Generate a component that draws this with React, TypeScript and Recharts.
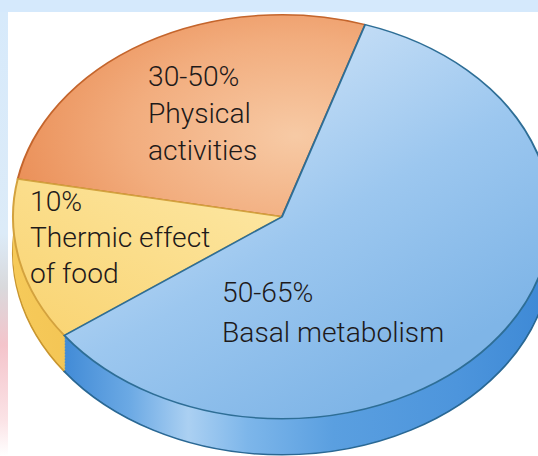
import React from "react";
import { PieChart, Pie, Cell } from "recharts";

// energy expenditure split (slice sizes in %)
const slices = ["Physical activities", "Thermic effect of food", "Basal metabolism"];
const shares = [27, 13, 60];
const labelLines = [
  ["30-50%", "Physical", "activities"],
  ["10%", "Thermic effect", "of food"],
  ["50-65%", "Basal metabolism"],
];

const data = slices.map((name, i) => ({ name, value: shares[i] }));

// layout
const W = 538;
const H = 456;
const TILT = 0.751; // vertical squash of the disc
const CX = 277;
const CY = 213 / TILT;
const R = 269;
const DEPTH = 48; // thickness before squashing
const labelPos = [
  { x: 148, y: 86, dy: 37 },
  { x: 30, y: 211, dy: 36 },
  { x: 222, y: 302, dy: 40 },
];

const topFill = ["url(#gOrange)", "url(#gYellow)", "url(#gBlue)"];
const topStroke = ["#c4652c", "#d3a23e", "#2e6e96"];
const sideFill = ["#e0854a", "url(#gYellowSide)", "url(#gBlueSide)"];
const sideStroke = ["#b85a22", "#c9962f", "#2a6894"];

const layers: number[] = [];
for (let d = DEPTH; d > 0; d -= 2) layers.push(d);

export default function App() {
  return (
    <div
      style={{
        position: "fixed",
        left: 0,
        top: 0,
        width: W,
        height: H,
        overflow: "hidden",
        background: "#fff",
      }}
    >
      <div
        style={{
          position: "absolute",
          left: 0,
          top: 0,
          transform: `scaleY(${TILT})`,
          transformOrigin: "0 0",
        }}
      >
        <PieChart width={W} height={Math.ceil(H / TILT)}>
          <defs>
            <radialGradient id="gOrange" cx="0.8" cy="0.6" r="0.95">
              <stop offset="0" stopColor="#f7caa5" />
              <stop offset="0.5" stopColor="#f2ad7e" />
              <stop offset="1" stopColor="#e8864c" />
            </radialGradient>
            <linearGradient id="gYellow" x1="1" y1="0" x2="0" y2="1">
              <stop offset="0" stopColor="#fde8a6" />
              <stop offset="1" stopColor="#f9d370" />
            </linearGradient>
            <linearGradient id="gBlue" x1="0.35" y1="0" x2="0.9" y2="0.75">
              <stop offset="0" stopColor="#d2e5f8" />
              <stop offset="0.55" stopColor="#9cc7ef" />
              <stop offset="1" stopColor="#7fb5e7" />
            </linearGradient>
            <linearGradient id="gBlueSide" gradientUnits="userSpaceOnUse" x1="0" y1="0" x2={W} y2="0">
              <stop offset="0.1" stopColor="#3b86d4" />
              <stop offset="0.24" stopColor="#6ba9e4" />
              <stop offset="0.35" stopColor="#abd0f2" />
              <stop offset="0.46" stopColor="#7db6ea" />
              <stop offset="0.62" stopColor="#5a9fe0" />
              <stop offset="0.85" stopColor="#4d95dc" />
              <stop offset="1" stopColor="#3f8ad6" />
            </linearGradient>
            <linearGradient id="gYellowSide" x1="0" y1="0" x2="1" y2="0">
              <stop offset="0" stopColor="#f6ca5a" />
              <stop offset="1" stopColor="#eab443" />
            </linearGradient>
          </defs>
          {layers.map((d) => (
            <Pie
              key={`side-${d}`}
              data={data}
              dataKey="value"
              cx={CX}
              cy={CY + d}
              outerRadius={R}
              startAngle={72}
              endAngle={432}
              isAnimationActive={false}
            >
              {data.map((s, i) => (
                <Cell
                  key={s.name}
                  fill={sideFill[i]}
                  stroke={d === DEPTH ? sideStroke[i] : "none"}
                  strokeWidth={2}
                />
              ))}
            </Pie>
          ))}
          <Pie
            data={data}
            dataKey="value"
            cx={CX}
            cy={CY}
            outerRadius={R}
            startAngle={72}
            endAngle={432}
            isAnimationActive={false}
          >
            {data.map((s, i) => (
              <Cell key={s.name} fill={topFill[i]} stroke={topStroke[i]} strokeWidth={2} />
            ))}
          </Pie>
        </PieChart>
      </div>

      {/* faint watermark bits around the picture */}
      <div style={{ position: "absolute", left: 0, top: 0, width: W, height: 12, background: "#d5e9fc" }} />
      <div
        style={{
          position: "absolute",
          left: 0,
          top: 12,
          width: 8,
          height: H - 12,
          background:
            "linear-gradient(#d7eafb 0%, #dcebf8 50%, #d9d9dc 62%, #f4c4cb 75%, #fbe3e6 92%, #ffffff 100%)",
        }}
      />

      <svg width={W} height={H} style={{ position: "absolute", left: 0, top: 0 }}>
        {labelLines.map((lines, i) => (
          <text
            key={slices[i]}
            fontFamily="Roboto, 'Liberation Sans', Arial, sans-serif"
            fontWeight={300}
            fontSize={28.2}
            fill="#1e1a1a"
          >
            {lines.map((line, j) => (
              <tspan key={line} x={labelPos[i].x} y={labelPos[i].y + j * labelPos[i].dy}>
                {line}
              </tspan>
            ))}
          </text>
        ))}
      </svg>
    </div>
  );
}
